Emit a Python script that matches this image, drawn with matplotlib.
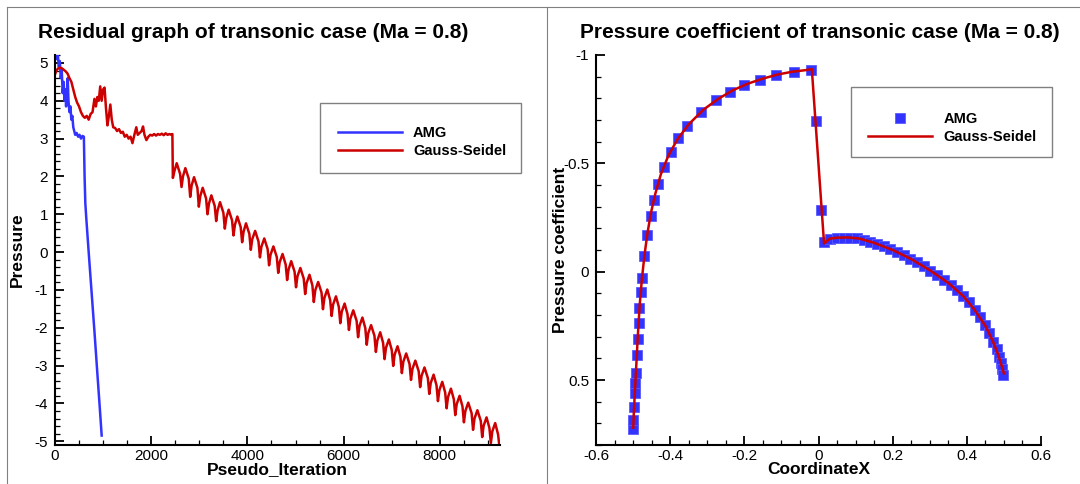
import matplotlib
matplotlib.use("Agg")
import matplotlib.pyplot as plt
from matplotlib.lines import Line2D
from matplotlib.patches import Rectangle
from matplotlib.ticker import MultipleLocator, FuncFormatter

plt.rcParams['font.family'] = ['Liberation Sans', 'DejaVu Sans']
plt.rcParams['axes.unicode_minus'] = False

# residual history - AMG
amg_iter = [0, 20, 40, 60, 80, 100, 120, 140, 160, 180, 200, 215, 230, 250, 265, 280,
            300, 320, 340, 360, 380, 400, 420, 450, 480, 510, 540, 570, 600,
            615, 630, 650, 700, 760, 820, 880, 930, 970]
amg_res = [5.2, 5.25, 5.1, 5.2, 4.9, 5.05, 4.6, 4.8, 4.2, 4.5, 4.0, 4.3, 3.85, 4.2, 4.6, 4.0,
           3.7, 3.85, 3.5, 3.6, 3.3, 3.2, 3.1, 3.15, 3.05, 3.1, 3.0, 3.07, 3.05,
           2.0, 1.3, 0.9, 0.0, -1.05, -2.1, -3.2, -4.1, -4.85]

# residual history - Gauss-Seidel
gs_iter = [0, 30, 60, 100, 140, 180, 220, 260, 300, 340, 380, 420, 460, 500, 540, 580,
           620, 660, 700, 740, 780, 820, 850, 880, 910, 940, 970, 1000, 1030, 1060,
           1090, 1120, 1150, 1180, 1210, 1250, 1290, 1330, 1370, 1410, 1450, 1490,
           1530, 1570, 1610, 1650, 1690, 1720, 1760, 1800, 1830, 1860, 1900, 1940,
           1980, 2020, 2060, 2100, 2140, 2180, 2220, 2260, 2300, 2340, 2380, 2420,
           2440,
           2450, 2480, 2530, 2600, 2630, 2660, 2710, 2780, 2810, 2840, 2890, 2960,
           2990, 3020, 3070, 3140, 3170, 3200, 3250, 3320, 3350, 3380, 3430, 3500,
           3530, 3560, 3610, 3680, 3710, 3740, 3790, 3860, 3890, 3920, 3970, 4040,
           4070, 4100, 4160, 4230, 4260, 4290, 4350, 4420, 4450, 4480, 4540, 4610,
           4640, 4670, 4730, 4795, 4825, 4855, 4910, 4980, 5010, 5040, 5100, 5170,
           5200, 5230, 5290, 5350, 5380, 5410, 5470, 5540, 5570, 5600, 5660, 5720,
           5750, 5780, 5840, 5900, 5930, 5960, 6020, 6080, 6110, 6140, 6200, 6270,
           6300, 6330, 6390, 6450, 6480, 6510, 6570, 6640, 6670, 6700, 6760, 6820,
           6850, 6880, 6940, 7000, 7030, 7060, 7120, 7180, 7210, 7240, 7300, 7370,
           7400, 7430, 7490, 7560, 7590, 7620, 7680, 7750, 7780, 7810, 7870, 7930,
           7960, 7990, 8050, 8110, 8140, 8170, 8230, 8290, 8320, 8350, 8410, 8470,
           8500, 8530, 8590, 8660, 8690, 8720, 8780, 8850, 8880, 8910, 8970, 9030,
           9060, 9090, 9150, 9210, 9235]
gs_res = [4.7, 4.8, 4.85, 4.88, 4.86, 4.82, 4.78, 4.72, 4.6, 4.5, 4.3, 4.1, 3.95, 3.85, 3.7, 3.6,
          3.55, 3.6, 3.5, 3.65, 3.7, 4.05, 3.85, 4.1, 4.0, 4.38, 4.0, 4.3, 4.35, 3.8,
          3.35, 3.6, 3.9, 3.5, 3.3, 3.28, 3.2, 3.25, 3.15, 3.18, 3.05, 3.1,
          3.0, 3.05, 2.88, 3.1, 3.3, 3.1, 3.15, 3.2, 3.32, 3.1, 2.96, 3.05,
          3.1, 3.08, 3.12, 3.08, 3.12, 3.1, 3.13, 3.09, 3.14, 3.1, 3.12, 3.1,
          3.12,
          1.96, 2.13, 2.35, 2.07, 1.72, 2.00, 2.22, 1.94, 1.46, 1.76, 1.98, 1.70,
          1.20, 1.48, 1.70, 1.42, 1.00, 1.28, 1.50, 1.22, 0.82, 1.10, 1.32, 1.04,
          0.62, 0.90, 1.12, 0.84, 0.44, 0.72, 0.94, 0.66, 0.26, 0.54, 0.76, 0.48,
          0.06, 0.34, 0.56, 0.28, -0.14, 0.14, 0.36, 0.08, -0.35, -0.07, 0.15, -0.13,
          -0.55, -0.27, -0.05, -0.33, -0.74, -0.46, -0.24, -0.52, -0.93, -0.64, -0.42, -0.70,
          -1.11, -0.82, -0.60, -0.88, -1.32, -1.01, -0.79, -1.07, -1.51, -1.21, -0.99, -1.27,
          -1.69, -1.39, -1.17, -1.45, -1.88, -1.58, -1.36, -1.64, -2.06, -1.76, -1.54, -1.82,
          -2.25, -1.95, -1.73, -2.01, -2.45, -2.15, -1.93, -2.21, -2.64, -2.34, -2.12, -2.40,
          -2.83, -2.53, -2.31, -2.59, -3.01, -2.71, -2.49, -2.77, -3.20, -2.90, -2.68, -2.96,
          -3.38, -3.09, -2.87, -3.15, -3.57, -3.27, -3.05, -3.33, -3.75, -3.46, -3.24, -3.52,
          -3.94, -3.65, -3.43, -3.71, -4.13, -3.83, -3.61, -3.89, -4.31, -4.02, -3.80, -4.08,
          -4.50, -4.20, -3.98, -4.26, -4.70, -4.40, -4.18, -4.46, -4.89, -4.59, -4.37, -4.65,
          -5.05, -4.74, -4.52, -4.82, -5.10]

# pressure coefficient - AMG (symbols)
amg_x = [-0.4995, -0.499, -0.497, -0.495, -0.494, -0.492, -0.490, -0.488, -0.485, -0.483,
         -0.480, -0.4755, -0.470, -0.462, -0.453, -0.444, -0.433, -0.417, -0.399, -0.378,
         -0.354, -0.318, -0.276, -0.240, -0.201, -0.159, -0.114, -0.067, -0.020, -0.008,
         0.008, 0.016, 0.032, 0.050, 0.068, 0.086, 0.104, 0.122, 0.140, 0.158,
         0.176, 0.194, 0.212, 0.230, 0.248, 0.266, 0.284, 0.302, 0.320, 0.338,
         0.356, 0.374, 0.390, 0.405, 0.421, 0.436, 0.448, 0.460, 0.471, 0.480,
         0.487, 0.491, 0.496, 0.498]
amg_cp = [0.724, 0.685, 0.624, 0.56, 0.515, 0.466, 0.384, 0.312, 0.238, 0.168,
          0.096, 0.027, -0.07, -0.167, -0.256, -0.333, -0.403, -0.483, -0.554, -0.617,
          -0.673, -0.738, -0.792, -0.830, -0.862, -0.886, -0.909, -0.923, -0.932, -0.696,
          -0.286, -0.136, -0.151, -0.156, -0.157, -0.157, -0.154, -0.148, -0.139, -0.128,
          -0.117, -0.105, -0.089, -0.075, -0.060, -0.043, -0.025, -0.005, 0.017, 0.037,
          0.060, 0.086, 0.114, 0.142, 0.176, 0.210, 0.245, 0.284, 0.323, 0.358,
          0.392, 0.423, 0.450, 0.477]

# pressure coefficient - Gauss-Seidel (line)
gs_x = [-0.4995, -0.498, -0.495, -0.491, -0.487, -0.482, -0.476, -0.469, -0.461, -0.452,
        -0.44, -0.425, -0.405, -0.38, -0.35, -0.31, -0.27, -0.23, -0.19, -0.15,
        -0.11, -0.07, -0.035, -0.018, 0.015, 0.03, 0.05, 0.08, 0.11, 0.15,
        0.2, 0.25, 0.3, 0.35, 0.39, 0.42, 0.45, 0.47, 0.485, 0.495, 0.5]
gs_cp = [0.72, 0.65, 0.55, 0.42, 0.29, 0.15, 0.03, -0.08, -0.18, -0.27,
         -0.36, -0.45, -0.535, -0.612, -0.68, -0.748, -0.798, -0.838, -0.868, -0.891,
         -0.91, -0.923, -0.93, -0.935, -0.13, -0.152, -0.157, -0.158, -0.153, -0.133,
         -0.1, -0.058, -0.007, 0.052, 0.112, 0.174, 0.25, 0.32, 0.385, 0.44, 0.47]

BLUE = '#3333ff'
RED = '#cc0000'
W, H = 1080, 484

fig = plt.figure(figsize=(10.8, 4.84), dpi=100)

def style(ax):
    for s in ['top', 'right']:
        ax.spines[s].set_visible(False)
    for s in ['left', 'bottom']:
        ax.spines[s].set_linewidth(1.5)
    ax.tick_params(which='both', direction='in', labelsize=11)
    ax.tick_params(which='major', length=6.5, width=1.3)
    ax.tick_params(which='minor', length=3.5, width=0.9)
    ax.tick_params(axis='y', pad=5)
    ax.tick_params(axis='x', pad=3)

# panel 1: residuals
ax1 = fig.add_axes([55 / W, 1 - 445 / H, 445 / W, 390 / H])
style(ax1)
ax1.plot(amg_iter, amg_res, color=BLUE, lw=1.8, label='AMG')
ax1.plot(gs_iter, gs_res, color=RED, lw=1.8, label='Gauss-Seidel')
ax1.set_xlim(0, 9250)
ax1.set_ylim(-5.1, 5.21)
ax1.xaxis.set_major_locator(MultipleLocator(2000))
ax1.xaxis.set_minor_locator(MultipleLocator(500))
ax1.yaxis.set_major_locator(MultipleLocator(1))
ax1.yaxis.set_minor_locator(MultipleLocator(0.2))
ax1.set_xlabel('Pseudo_Iteration', fontsize=12.5, fontweight='bold')
ax1.set_ylabel('Pressure', fontsize=12.5, fontweight='bold')
ax1.xaxis.set_label_coords(0.5, -0.043)
ax1.yaxis.set_label_coords(-0.067, 0.5)

# panel 2: pressure coefficient
ax2 = fig.add_axes([596 / W, 1 - 445 / H, 445 / W, 390 / H])
style(ax2)
ax2.plot(amg_x, amg_cp, ls='none', marker='s', ms=7.2, mfc=BLUE, mec='#5a5aff',
         mew=0.6, label='AMG')
ax2.plot(gs_x, gs_cp, color=RED, lw=1.8, label='Gauss-Seidel')
ax2.set_xlim(-0.6, 0.6)
ax2.set_ylim(0.8, -1.0)
ax2.xaxis.set_major_locator(MultipleLocator(0.2))
ax2.xaxis.set_minor_locator(MultipleLocator(0.05))
ax2.yaxis.set_major_locator(MultipleLocator(0.5))
ax2.yaxis.set_minor_locator(MultipleLocator(0.1))
fmt = FuncFormatter(lambda v, p: '%g' % round(v, 3))
ax2.xaxis.set_major_formatter(fmt)
ax2.yaxis.set_major_formatter(fmt)
ax2.set_xlabel('CoordinateX', fontsize=12.5, fontweight='bold')
ax2.set_ylabel('Pressure coefficient', fontsize=12.5, fontweight='bold')
ax2.xaxis.set_label_coords(0.5, -0.043)
ax2.yaxis.set_label_coords(-0.063, 0.5)

# titles
fig.text(38 / W, 1 - 33 / H, 'Residual graph of transonic case (Ma = 0.8)',
         fontsize=15, fontweight='bold', ha='left', va='center')
fig.text(580 / W, 1 - 33 / H, 'Pressure coefficient of transonic case (Ma = 0.8)',
         fontsize=15, fontweight='bold', ha='left', va='center')

# legend boxes
for (x0, y0, x1, y1) in [(320, 103, 521, 173), (851, 87, 1052, 157)]:
    fig.add_artist(Rectangle((x0 / W, 1 - y1 / H), (x1 - x0) / W, (y1 - y0) / H,
                             transform=fig.transFigure, fc='none', ec='#808080',
                             lw=1.0, zorder=5))

leg_kw = dict(loc='upper left', frameon=False, borderpad=0, borderaxespad=0,
              handlelength=4.4, labelspacing=0.25, numpoints=1,
              prop={'weight': 'bold', 'size': 10.5}, bbox_transform=fig.transFigure)
ax1.legend(bbox_to_anchor=(338 / W, 1 - 126 / H), handletextpad=0.75, **leg_kw)
ax2.legend(bbox_to_anchor=(868 / W, 1 - 112 / H), handletextpad=0.8, **leg_kw)

# panel frame lines
gray = '#808080'
fig.add_artist(Line2D([7 / W, 1], [1 - 7 / H, 1 - 7 / H], transform=fig.transFigure, color=gray, lw=0.8))
fig.add_artist(Line2D([7 / W, 7 / W], [0, 1 - 7 / H], transform=fig.transFigure, color=gray, lw=0.8))
fig.add_artist(Line2D([547 / W, 547 / W], [0, 1 - 7 / H], transform=fig.transFigure, color=gray, lw=0.8))

fig.savefig('out.png', dpi=100)
